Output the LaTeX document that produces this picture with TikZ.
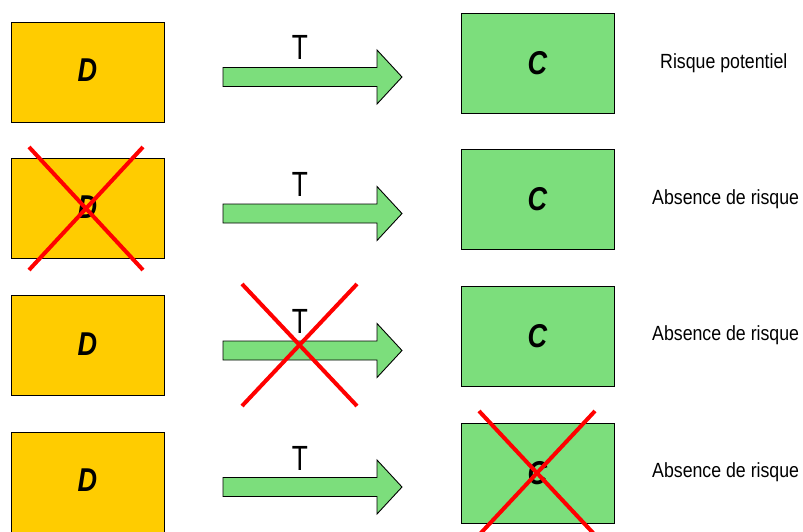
\documentclass[tikz,border=0pt]{standalone}
\usepackage{fontspec}
\setmainfont{Liberation Sans}
\newfontfamily\narrowfont[FakeStretch=0.865]{Liberation Sans}
\newfontfamily\tfont[FakeStretch=0.75]{Liberation Sans}
\newfontfamily\letterfont[FakeStretch=0.82]{Liberation Sans}
\begin{document}
\begin{tikzpicture}[x=1pt,y=-1pt,
  dbox/.style={draw=black,line width=0.9pt,fill=dfill,minimum width=153pt,minimum height=100pt,inner sep=0pt,font=\letterfont\fontsize{33}{33}\selectfont\bfseries\itshape},
  cbox/.style={draw=black,line width=0.9pt,fill=cfill,minimum width=153pt,minimum height=100pt,inner sep=0pt,font=\letterfont\fontsize{33}{33}\selectfont\bfseries\itshape},
  blockarrow/.style={draw=black,line width=0.9pt,fill=cfill,line join=miter},
  tlabel/.style={inner sep=0pt,font=\tfont\fontsize{35}{35}\selectfont},
  risk/.style={anchor=west,inner sep=0pt,font=\narrowfont\fontsize{20.5}{20.5}\selectfont},
  cross/.style={draw=red,line width=4pt}]
\definecolor{dfill}{RGB}{255,204,0}
\definecolor{cfill}{RGB}{124,222,124}
\useasboundingbox (0,0) rectangle (803,531);
\foreach \i/\dy/\cy/\ay/\ty/\ry/\txt/\rx in {1/72/63/77/47.5/63/Risque potentiel/660,2/208.5/199.5/213.5/184.5/199/Absence de risque/652,3/345.5/336.5/350.5/321.5/335/Absence de risque/652,4/482/473/487/458.5/472/Absence de risque/652}{
  \node[dbox] (d\i) at (87.5,\dy) {\raisebox{3pt}{D}};
  \node[cbox] (c\i) at (537.5,\cy) {C};
  \coordinate (a\i) at (223,\ay);
  \draw[blockarrow] (a\i) ++(0,-9.5) -- ++(154,0) -- ++(0,-17.5) -- ++(25,27) -- ++(-25,27) -- ++(0,-17.5) -- ++(-154,0) -- cycle;
  \node[tlabel] (t\i) at (300,\ty) {T};
  \node[risk] (r\i) at (\rx,\ry) {\txt};
}
\draw[cross] (29,147) -- (143,270);
\draw[cross] (143,147) -- (29,270);
\draw[cross] (242,284) -- (357,406);
\draw[cross] (357,284) -- (242,406);
\draw[cross] (479,411) -- (595,535);
\draw[cross] (595,411) -- (479,535);
\end{tikzpicture}
\end{document}
